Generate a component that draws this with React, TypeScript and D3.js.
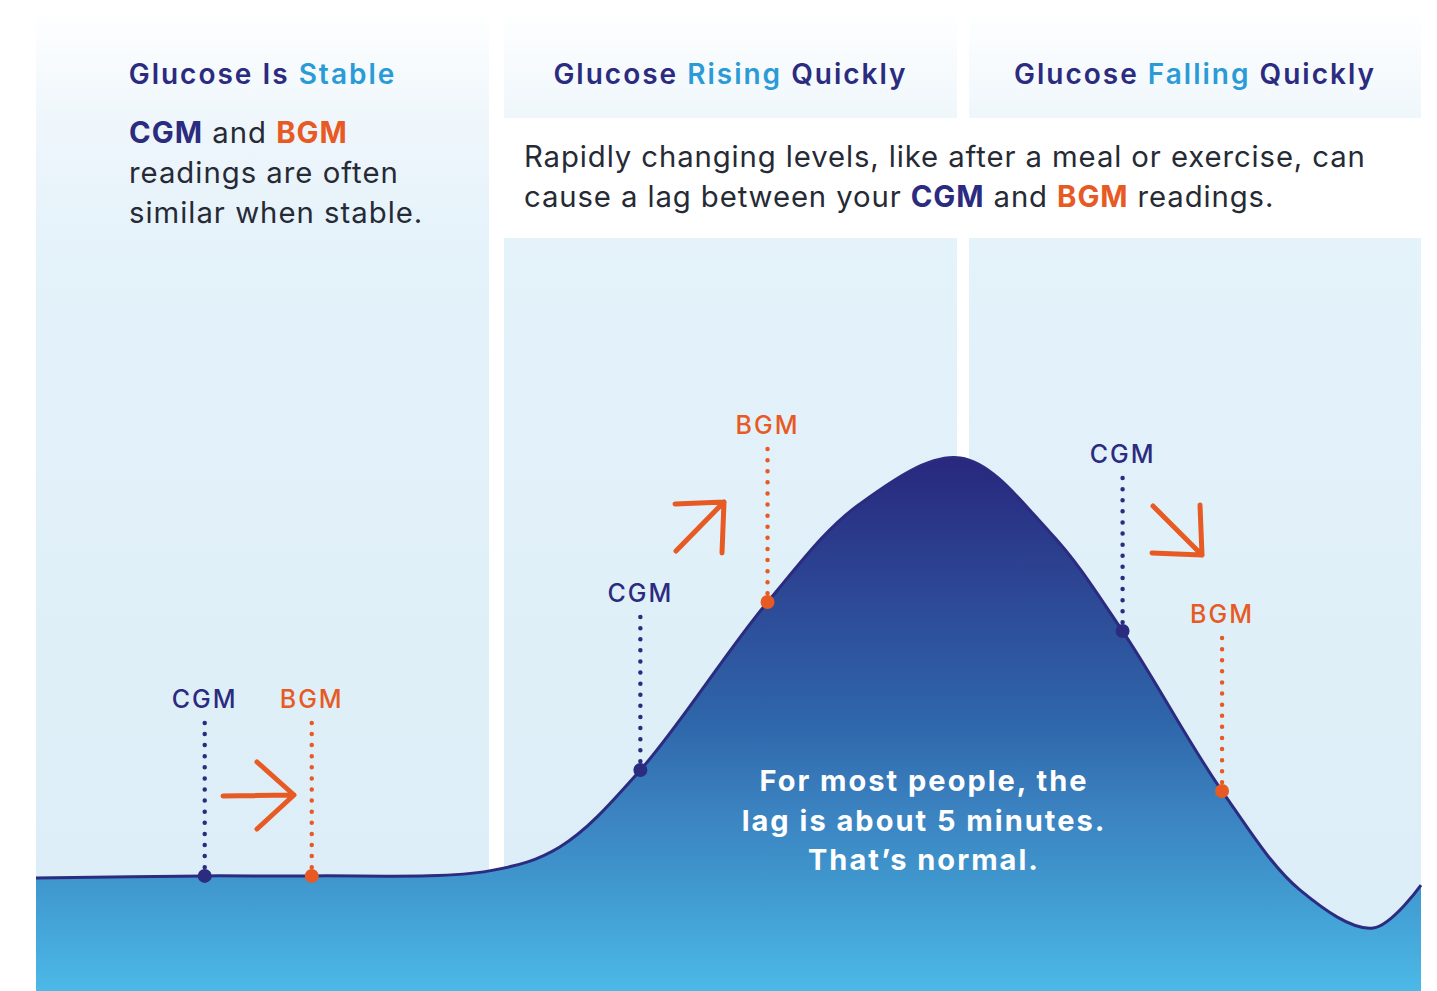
import React from 'react';
import * as d3 from 'd3';

// glucose curve (minutes, mg/dL)
const TIME = [0, 13.4, 21.9, 36, 41.6, 48, 58.1, 65.4, 73.4, 80.5, 86.3, 94.2, 100.4, 106.2, 110];
const GLUCOSE = [100, 100.5, 100.5, 101.7, 107.4, 125.7, 165.7, 189, 200, 182.4, 158.8, 120.7, 97.1, 88.1, 98.3];

// CGM / BGM reading pairs
const MARKER_LABELS = ['CGM', 'BGM', 'CGM', 'BGM', 'CGM', 'BGM'];
const MARKER_TIMES = [13.4, 21.9, 48, 58.1, 86.3, 94.2];

const TITLE_PRE = ['Glucose Is ', 'Glucose ', 'Glucose '];
const TITLE_KEY = ['Stable', 'Rising', 'Falling'];
const TITLE_POST = ['', ' Quickly', ' Quickly'];

const W = 1437;
const H = 991;
const NAVY = '#2b2b80';
const ORANGE = '#e85a24';
const CYAN = '#2a9bd7';
const INK = '#262a35';
const FONT = "Inter, 'Noto Sans', sans-serif";

const x = d3.scaleLinear().domain([0, 110]).range([36, 1421]);
const y = d3.scaleLinear().domain([100, 200]).range([878, 458]);

const pts: [number, number][] = TIME.map((t, i) => [t, GLUCOSE[i]]);

const curve = d3.curveCatmullRom.alpha(0.5);

const line = d3.line<[number, number]>()
  .x(d => x(d[0]))
  .y(d => y(d[1]))
  .curve(curve);

const area = d3.area<[number, number]>()
  .x(d => x(d[0]))
  .y0(H)
  .y1(d => y(d[1]))
  .curve(curve);

const panelCols = [
  { x0: 36, x1: 489 },
  { x0: 504, x1: 957 },
  { x0: 969, x1: 1421 },
];

function Arrow({ d }: { d: string }) {
  return <path d={d} fill="none" stroke={ORANGE} strokeWidth={5} strokeLinecap="round" strokeLinejoin="round" />;
}

export default function App() {
  const markers = MARKER_TIMES.map((t, i) => {
    const g = GLUCOSE[TIME.indexOf(t)];
    return { t, g, label: MARKER_LABELS[i], color: MARKER_LABELS[i] === 'CGM' ? NAVY : ORANGE };
  });

  return (
    <svg width={W} height={H} style={{ position: 'absolute', left: 0, top: 0 }} fontFamily={FONT}>
      <defs>
        <linearGradient id="panelBg" gradientUnits="userSpaceOnUse" x1={0} y1={8} x2={0} y2={H}>
          <stop offset="0" stopColor="#ffffff" />
          <stop offset="0.12" stopColor="#eef6fb" />
          <stop offset="0.25" stopColor="#e4f2fa" />
          <stop offset="1" stopColor="#dbedf7" />
        </linearGradient>
        <linearGradient id="areaFill" gradientUnits="userSpaceOnUse" x1={0} y1={458} x2={0} y2={H}>
          <stop offset="0" stopColor="#28287e" />
          <stop offset="0.27" stopColor="#2d4a97" />
          <stop offset="0.5" stopColor="#2f67ab" />
          <stop offset="0.66" stopColor="#3b82c0" />
          <stop offset="0.79" stopColor="#3f96cd" />
          <stop offset="1" stopColor="#4cb9e7" />
        </linearGradient>
      </defs>

      <rect width={W} height={H} fill="#ffffff" />

      {/* panels */}
      <rect x={panelCols[0].x0} y={8} width={panelCols[0].x1 - panelCols[0].x0} height={H - 8} fill="url(#panelBg)" />
      {panelCols.slice(1).map((p, i) => (
        <g key={'p' + i}>
          <rect x={p.x0} y={8} width={p.x1 - p.x0} height={110} fill="url(#panelBg)" />
          <rect x={p.x0} y={238} width={p.x1 - p.x0} height={H - 238} fill="url(#panelBg)" />
        </g>
      ))}

      {/* titles */}
      {panelCols.map((p, i) => (
        <text key={'t' + i} x={(p.x0 + p.x1) / 2} y={84} textAnchor="middle"
          fontSize={28} fontWeight={600} letterSpacing={2} fill={NAVY}>
          {TITLE_PRE[i]}<tspan fill={CYAN}>{TITLE_KEY[i]}</tspan>{TITLE_POST[i]}
        </text>
      ))}

      {/* left note */}
      <g fontSize={29.3} fill={INK} letterSpacing={1}>
        <text x={129} y={143}>
          <tspan fontWeight={700} fill={NAVY}>CGM</tspan> and <tspan fontWeight={700} fill={ORANGE}>BGM</tspan>
        </text>
        <text x={129} y={183}>readings are often</text>
        <text x={129} y={223}>similar when stable.</text>
      </g>

      {/* middle note */}
      <g fontSize={29.3} fill={INK} letterSpacing={0.9}>
        <text x={524} y={167}>Rapidly changing levels, like after a meal or exercise, can</text>
        <text x={524} y={207}>
          cause a lag between your <tspan fontWeight={700} fill={NAVY}>CGM</tspan> and{' '}
          <tspan fontWeight={700} fill={ORANGE}>BGM</tspan> readings.
        </text>
      </g>

      {/* glucose curve */}
      <path d={area(pts) || ''} fill="url(#areaFill)" />
      <path d={line(pts) || ''} fill="none" stroke={NAVY} strokeWidth={3} />

      {/* readings */}
      {markers.map((m, i) => {
        const cx = x(m.t);
        const cy = y(m.g);
        return (
          <g key={'m' + i}>
            <line x1={cx} x2={cx} y1={cy - 153} y2={cy - 8} stroke={m.color} strokeWidth={4.5}
              strokeLinecap="round" strokeDasharray="0 11.1" />
            <circle cx={cx} cy={cy} r={7} fill={m.color} />
            <text x={cx} y={cy - 168} textAnchor="middle" fontSize={25} fontWeight={500}
              letterSpacing={2} fill={m.color}>{m.label}</text>
          </g>
        );
      })}

      {/* direction arrows */}
      <Arrow d="M223,796 L294,795 M257,762 L294,795 L257,829" />
      <Arrow d="M676,551 L724,502 M675,504 L724,502 L722,553" />
      <Arrow d="M1153,506 L1202,555 M1200,505 L1202,555 L1152,553" />

      {/* lag note */}
      <g fill="#ffffff" fontSize={29} fontWeight={700} textAnchor="middle" letterSpacing={2}>
        <text x={924} y={791}>For most people, the</text>
        <text x={924} y={831}>lag is about 5 minutes.</text>
        <text x={924} y={870}>That’s normal.</text>
      </g>
    </svg>
  );
}
